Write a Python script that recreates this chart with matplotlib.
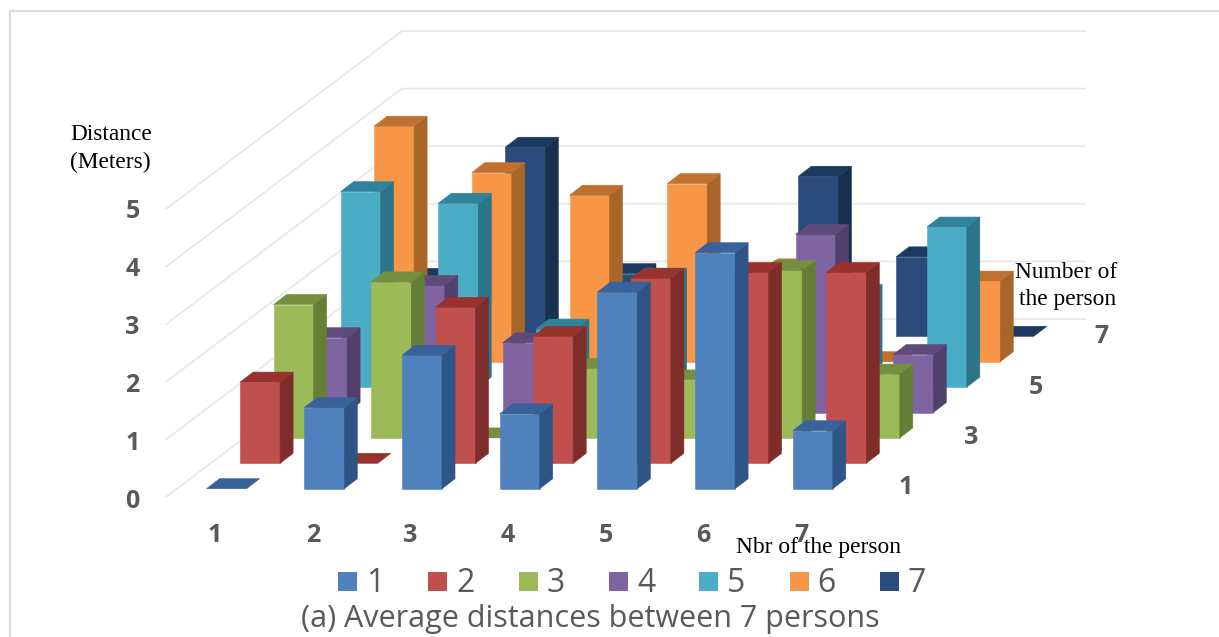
import matplotlib
matplotlib.use("Agg")
from matplotlib import pyplot as plt
from matplotlib.patches import Polygon, Rectangle

persons = ["1", "2", "3", "4", "5", "6", "7"]
depth_labels = ["1", "3", "5", "7"]
value_ticks = [0, 1, 2, 3, 4, 5]

dist_1 = [0, 1.40, 2.30, 1.29, 3.39, 4.07, 1.00]
dist_2 = [1.40, 0, 2.69, 2.19, 3.19, 3.29, 3.29]
dist_3 = [2.30, 2.69, 0, 1.20, 1.00, 2.89, 1.10]
dist_4 = [1.29, 2.19, 1.20, 0, 1.88, 3.07, 1.00]
dist_5 = [3.37, 3.17, 1.00, 1.88, 0, 1.60, 2.76]
dist_6 = [4.06, 3.26, 2.87, 3.07, 1.60, 0, 1.39]
dist_7 = [1.00, 3.26, 1.08, 1.00, 2.76, 1.37, 0]
series = [dist_1, dist_2, dist_3, dist_4, dist_5, dist_6, dist_7]

# front, side, top
colors = [("#4F81BD", "#2F5586", "#386299"),
          ("#C0504D", "#7E2D2A", "#97322F"),
          ("#9BBB59", "#667F37", "#748F3F"),
          ("#8064A2", "#533F6E", "#5F4A7C"),
          ("#4BACC6", "#2B7489", "#31839B"),
          ("#F79646", "#A8662A", "#BF7130"),
          ("#2A4C7A", "#17304F", "#1C3A60")]

# oblique projection of the chart box onto the page, in pixels
x0, y0 = 206.6, 488.7
step_x = 97.7
ser_dx, ser_dy = 33.5, 25.4
unit = 58.0
grid_unit = 57.6
bar_w = 40
side_x, side_y = 13, 10
grid_color = "#E6E6E6"
text_color = "#595959"

plt.rcParams["font.family"] = ["Open Sans", "DejaVu Sans"]
fig = plt.figure(figsize=(12.19, 6.37), dpi=100)
ax = fig.add_axes([0, 0, 1, 1])
ax.set_xlim(0, 1219)
ax.set_ylim(637, 0)
ax.axis("off")

# outer frame, only top and left are in the picture
ax.plot([9.5, 9.5, 1225], [640, 10.5, 10.5], color="#DDDDDD", lw=1.5)

# walls
for v in value_ticks:
	ax.plot([166, 402, 1085], [497 - grid_unit * v, 319 - grid_unit * v, 319 - grid_unit * v], color=grid_color, lw=1.2, zorder=1)
	ax.text(132.5, 501 - unit * v, str(v), color=text_color, fontsize=18, fontweight="bold", ha="center", va="center")


def draw_bar(person, ser, value, zorder):
	left = x0 + person * step_x + ser * ser_dx
	base = y0 - ser * ser_dy
	top = base - value * unit
	right = left + bar_w
	front, side, roof = colors[ser]
	if value > 0:
		ax.add_patch(Polygon([(left, base), (right, base), (right, top), (left, top)], fc=front, ec=front, lw=0.4, zorder=zorder))
		ax.add_patch(Polygon([(right, base), (right + side_x, base - side_y), (right + side_x, top - side_y), (right, top)],
		                     fc=side, ec=side, lw=0.4, zorder=zorder))
	ax.add_patch(Polygon([(left, top), (right, top), (right + side_x, top - side_y), (left + side_x, top - side_y)],
	                     fc=roof, ec=roof, lw=0.4, zorder=zorder))


z = 2
for s in range(6, -1, -1):
	for p in range(7):
		draw_bar(p, s, series[s][p], z)
		z += 1

# category labels
for p, name in enumerate(persons):
	ax.text(215 + p * step_x, 536, name, color=text_color, fontsize=18, fontweight="bold", ha="center", va="center", zorder=100)
for i, name in enumerate(depth_labels):
	ax.text(906 + i * 65, 488 - i * 50.5, name, color=text_color, fontsize=18, fontweight="bold", ha="center", va="center", zorder=100)

# hand written axis captions
serif = dict(family="Liberation Serif", color="black", fontsize=16.8, zorder=101, va="center")
ax.text(70, 134, "Distance", **serif)
ax.text(70, 162, "(Meters)", **serif)
ax.text(1015, 273, "Number of", **serif)
ax.text(1019, 299, "the person", **serif)
ax.text(736, 548, "Nbr of the person", **serif)

# legend
for i, name in enumerate(persons):
	lx = 338 + i * 90.3
	ax.add_patch(Rectangle((lx, 572), 19, 19, fc=colors[i][0], ec="none", zorder=100))
	ax.text(lx + 28, 583, name, color=text_color, fontsize=23, ha="left", va="center", zorder=100)

ax.text(590.5, 619, "(a) Average distances between 7 persons", color=text_color, fontsize=22,
        ha="center", va="center", zorder=100)

fig.savefig("out.png", dpi=100)
